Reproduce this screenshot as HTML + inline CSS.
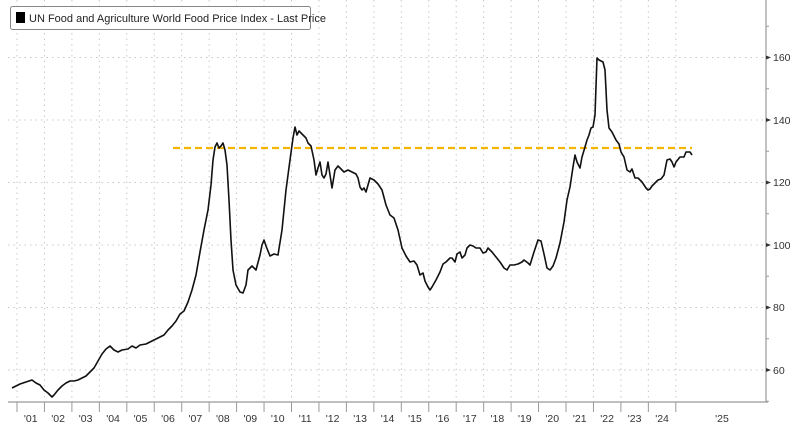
<!DOCTYPE html>
<html><head><meta charset="utf-8"><style>
body{margin:0;background:#fff;}
svg{display:block;font-family:"Liberation Sans",sans-serif;}
</style></head><body>
<svg width="800" height="425" viewBox="0 0 800 425">
<rect width="800" height="425" fill="#fff"/>
<g stroke="#c8c8c8" stroke-width="1" stroke-dasharray="1.5,4">
<line x1="8" y1="57.5" x2="766" y2="57.5"/>
<line x1="8" y1="120" x2="766" y2="120"/>
<line x1="8" y1="182.5" x2="766" y2="182.5"/>
<line x1="8" y1="245" x2="766" y2="245"/>
<line x1="8" y1="307.5" x2="766" y2="307.5"/>
<line x1="8" y1="370" x2="766" y2="370"/>
</g>
<g id="vg" stroke="#c8c8c8" stroke-width="1" stroke-dasharray="1.5,4"></g>
<line x1="766" y1="0" x2="766" y2="402" stroke="#999" stroke-width="1.2"/>
<line x1="8" y1="402" x2="768" y2="402" stroke="#999" stroke-width="1.2"/>
<g id="ticks" stroke="#999" stroke-width="1">
<line x1="766" y1="26.25" x2="769" y2="26.25"/><line x1="766" y1="88.75" x2="769" y2="88.75"/><line x1="766" y1="151.25" x2="769" y2="151.25"/><line x1="766" y1="213.75" x2="769" y2="213.75"/><line x1="766" y1="276.25" x2="769" y2="276.25"/><line x1="766" y1="338.75" x2="769" y2="338.75"/><line x1="766" y1="401.25" x2="769" y2="401.25"/>
</g>
<g fill="#333" font-size="10.5">
<text x="773" y="61">160</text>
<text x="773" y="124">140</text>
<text x="773" y="186">120</text>
<text x="773" y="249">100</text>
<text x="773" y="311">80</text>
<text x="773" y="374">60</text>
</g>
<g fill="#333">
<path d="M766 55.5 l5 2 l-5 2z"/><path d="M766 118 l5 2 l-5 2z"/><path d="M766 180.5 l5 2 l-5 2z"/><path d="M766 243 l5 2 l-5 2z"/><path d="M766 305.5 l5 2 l-5 2z"/><path d="M766 368 l5 2 l-5 2z"/>
</g>
<g id="xl" fill="#333" font-size="10.5" text-anchor="middle"></g>
<line x1="173" y1="148" x2="692" y2="148" stroke="#f5b400" stroke-width="2.2" stroke-dasharray="7,4"/>
<polyline fill="none" stroke="#111" stroke-width="1.6" stroke-linejoin="round" points="12,388 20,384 26,382 32,380 36,383 40,385 44,390 48,393 52,397 54,395 58,390 62,386 66,383 70,381 74,381 78,380 82,378 86,376 90,372 94,368 98,361 102,354 106,349 110,346 114,350 118,352 122,350 128,349 132,346 136,348 140,345 146,344 150,342 156,339 160,337 164,335 168,330 172,326 176,321 180,314 184,311 188,302 192,290 196,275 200,252 204,230 208,210 211,185 213,160 215,147 217,143 219,148 221,146 223,143 225,150 227,165 229,200 231,240 233,270 236,285 240,292 243,293 246,285 248,270 252,266 256,270 260,255 262,245 264,240 266,246 270,256 274,254 278,255 282,230 286,190 290,160 293,138 295,127 297,135 299,131 302,134 306,138 308,143 311,146 314,160 316,175 318,168 320,162 322,175 324,178 326,174 328,162 330,175 332,188 335,170 338,166 340,168 344,172 348,170 352,172 356,174 358,178 360,187 362,190 364,188 366,192 368,185 370,178 374,180 378,184 382,190 386,205 390,215 394,218 398,230 402,248 406,256 410,262 414,261 417,265 420,275 423,273 425,281 428,287 430,290 432,287 436,280 440,272 443,264 446,262 450,258 452,258 455,262 457,254 460,252 462,258 465,255 467,248 470,245 473,246 476,248 480,248 483,253 486,252 488,248 492,252 496,257 500,262 504,268 507,270 510,265 514,265 518,264 522,262 524,260 528,263 530,265 534,252 538,240 541,241 544,254 547,268 550,270 553,266 556,258 560,243 564,222 567,200 570,187 573,167 575,155 577,162 580,168 582,157 585,147 587,140 589,135 591,128 593,127 595,115 597,58 599,60 603,62 605,70 607,110 609,128 612,132 616,140 619,144 621,152 624,157 627,170 630,172 632,169 635,178 638,178 642,182 646,188 648,190 650,189 652,186 655,183 658,180 661,179 664,175 667,160 670,159 672,162 674,167 676,162 680,157 684,157 686,152 690,152 692,155"/>
<rect x="10.5" y="6.5" width="300" height="23" rx="2" fill="#fff" stroke="#888"/>
<rect x="16" y="12" width="9" height="11" fill="#000"/>
<text x="29" y="22" font-size="11" fill="#222">UN Food and Agriculture World Food Price Index - Last Price</text>
<script>
var ns="http://www.w3.org/2000/svg",vg=document.getElementById('vg'),tk=document.getElementById('ticks'),xl=document.getElementById('xl');
for(var i=0;i<=24;i++){var x=17+27.45*i;
var l=document.createElementNS(ns,'line');l.setAttribute('x1',x);l.setAttribute('x2',x);l.setAttribute('y1',0);l.setAttribute('y2',402);vg.appendChild(l);
var t=document.createElementNS(ns,'line');t.setAttribute('x1',x);t.setAttribute('x2',x);t.setAttribute('y1',402);t.setAttribute('y2',412);tk.appendChild(t);
if(i<24){var s=document.createElementNS(ns,'text');s.setAttribute('x',x+13.7);s.setAttribute('y',422);var y=i+1;s.textContent="'"+(y<10?"0"+y:y);xl.appendChild(s);}}
var s=document.createElementNS(ns,'text');s.setAttribute('x',722);s.setAttribute('y',422);s.textContent="'25";xl.appendChild(s);
</script>
</svg>
</body></html>
